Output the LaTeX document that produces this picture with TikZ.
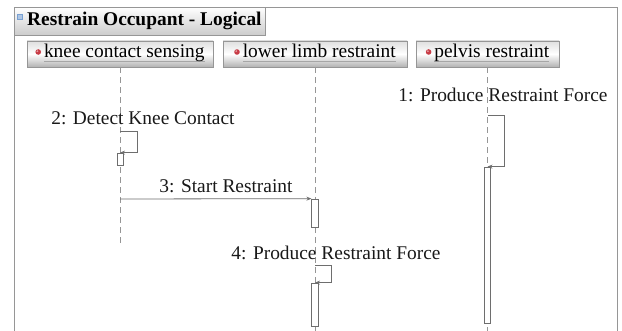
\documentclass[tikz,border=0pt]{standalone}
\usepackage{fontspec}
\setmainfont{Liberation Serif}
\usetikzlibrary{arrows.meta}
\definecolor{frameg}{RGB}{150,150,150}
\definecolor{lineg}{RGB}{110,110,110}
\definecolor{dotred}{RGB}{200,60,70}
\definecolor{iconblue}{RGB}{120,160,210}
\newcommand\objicon{\tikz[baseline=-6pt]{\fill[dotred] (0pt,0pt) circle (2.8pt);\fill[white,opacity=0.5] (-0.8pt,0.8pt) circle (1pt);}}
\newcommand\objname[1]{\objicon\hspace{3pt}\setbox0\hbox{#1}\rlap{\color{gray!70}\rule[-3.5pt]{\wd0}{0.6pt}}\box0}
\begin{document}
\begin{tikzpicture}[x=1pt,y=-1pt,
  font=\fontsize{19.4}{23}\selectfont,
  hdr/.style={draw=frameg,line width=0.8pt,top color=gray!25,bottom color=gray!60,middle color=white,inner sep=0pt,minimum height=26pt,text height=13pt,text depth=5pt},
  tab/.style={draw=frameg,line width=0.8pt,top color=white,bottom color=gray!40,inner sep=0pt,minimum width=251pt,minimum height=28pt},
  life/.style={draw=frameg,line width=0.8pt,dash pattern=on 6pt off 4pt},
  act/.style={draw=lineg,fill=white,line width=0.7pt,inner sep=0pt,minimum width=6.5pt},
  msg/.style={draw=lineg,line width=0.8pt,-{Stealth[length=5pt,width=4pt]}},
  lbl/.style={inner sep=0pt,text=black!90}]
\useasboundingbox (0,0) rectangle (622,331);
\fill[white] (0,0) rectangle (622,331);
% frame
\coordinate (fbl) at (14,331);
\coordinate (ftl) at (14,7);
\coordinate (ftr) at (617,7);
\coordinate (fbr) at (617,331);
\draw[frameg,line width=0.9pt] (fbl) -- (ftl) -- (ftr) -- (fbr);
% title tab
\node[tab] (title) at (139.5,21) {};
\node[anchor=west,inner sep=0pt,font=\fontsize{19.4}{23}\selectfont\bfseries] (titletext) at (27,21) {Restrain Occupant - Logical};
\node[fill=iconblue!60,draw=iconblue,line width=0.3pt,minimum size=5pt,inner sep=0pt] (ticon) at (20,17) {};
% lifeline headers
\node[hdr,minimum width=186pt] (knee) at (120,54) {\objname{knee contact sensing}};
\node[hdr,minimum width=184pt] (lower) at (315,54) {\objname{lower limb restraint}};
\node[hdr,minimum width=143pt] (pelvis) at (487.5,54) {\objname{pelvis restraint}};
% lifeline ends
\coordinate (kneeend) at (120,243);
\coordinate (lowerend) at (315,331);
\coordinate (pelvisend) at (487.5,331);
\draw[life] (knee.south) -- (kneeend);
\draw[life] (lower.south) -- (lowerend);
\draw[life] (pelvis.south) -- (pelvisend);
% activations
\node[act,minimum height=156pt] (pact) at (487.5,245) {};
\node[act,minimum height=12pt,minimum width=6pt] (kact) at (120,159) {};
\node[act,minimum height=28pt] (lact1) at (315,213) {};
\node[act,minimum height=43pt] (lact2) at (315,304.5) {};
% message 1
\node[lbl] (m1) at (503,95) {1: Produce Restraint Force};
\coordinate (m1s) at (488,115);
\draw[msg] (m1s) -- ++(16,0) |- (pact.north);
% message 2
\node[lbl] (m2) at (143,118) {2: Detect Knee Contact};
\coordinate (m2s) at (120,131);
\draw[msg] (m2s) -- ++(17,0) |- (kact.north);
% message 3
\node[lbl] (m3) at (226,186) {3: Start Restraint};
\coordinate (m3s) at (120,199);
\draw[msg] (m3s) -- (lact1.north west);
% message 4
\node[lbl] (m4) at (336,253) {4: Produce Restraint Force};
\coordinate (m4s) at (315,265);
\draw[msg] (m4s) -- ++(16,0) |- (lact2.north);
\end{tikzpicture}
\end{document}
